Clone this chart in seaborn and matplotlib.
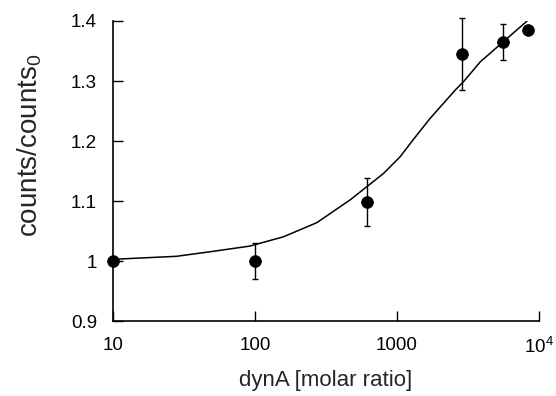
import pandas as pd
import seaborn as sns
import matplotlib.pyplot as plt

# measured points
ratio = [10, 100, 620, 2900, 5600, 8400]
counts = [1.000, 1.001, 1.098, 1.345, 1.365, 1.385]
err = [0.0, 0.030, 0.040, 0.060, 0.030, 0.006]

# fitted curve
fit_ratio = [10, 28, 48, 92, 159, 273, 469, 615, 806, 1057, 1312, 1720, 2582, 2954,
             3873, 5665, 8275]
fit_counts = [1.003, 1.008, 1.0155, 1.025, 1.0405, 1.064, 1.102, 1.124, 1.146, 1.174,
              1.203, 1.238, 1.285, 1.299, 1.332, 1.366, 1.400]

pts = pd.DataFrame({'ratio': ratio, 'counts': counts})
fit = pd.DataFrame({'ratio': fit_ratio, 'counts': fit_counts})

sns.set_style('ticks')
plt.rcParams['font.family'] = ['Liberation Sans', 'DejaVu Sans']

fig = plt.figure(figsize=(5.56, 3.96), dpi=100)
ax = fig.add_axes([0.203, 0.189, 0.766, 0.758])

sns.lineplot(data=fit, x='ratio', y='counts', color='black', lw=1.1, ax=ax)
ax.errorbar(ratio, counts, yerr=err, fmt='none', ecolor='black', elinewidth=1.0,
            capsize=2.3, capthick=1.0, clip_on=False)
sns.scatterplot(data=pts, x='ratio', y='counts', color='black', s=70, edgecolor='black',
                zorder=5, clip_on=False, ax=ax)

ax.set_xscale('log')
ax.set_xlim(10, 10000)
ax.set_ylim(0.9, 1.4)
ax.set_xticks([10, 100, 1000, 10000])
ax.set_xticklabels(['10', '100', '1000', '$\\mathregular{10^4}$'])
ax.minorticks_off()
ax.set_yticks([0.9, 1.0, 1.1, 1.2, 1.3, 1.4])
ax.set_yticklabels(['0.9', '1', '1.1', '1.2', '1.3', '1.4'])
ax.tick_params(direction='in', length=7, width=1.0, labelsize=13.5, pad=11.5, colors='black')

sns.despine(ax=ax)
for s in ['left', 'bottom']:
    ax.spines[s].set_linewidth(1.2)
    ax.spines[s].set_color('black')

ax.set_xlabel('dynA [molar ratio]', fontsize=16)
ax.xaxis.set_label_coords(0.5, -0.163)
ax.set_ylabel('')
fig.text(30 / 556, 1 - 145 / 396, 'counts/counts$_\\mathregular{0}$', rotation=90,
         ha='center', va='center', fontsize=20)

fig.savefig('out.png', dpi=100)
